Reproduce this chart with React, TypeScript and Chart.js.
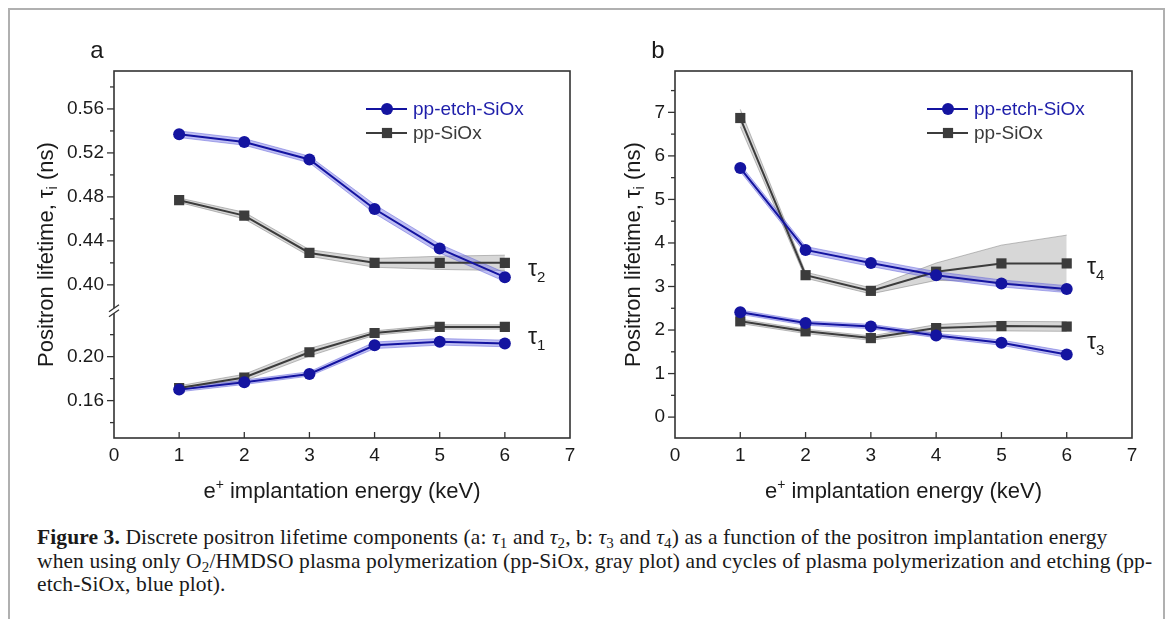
import React, { useEffect, useRef } from 'react';
import { Chart, registerables } from 'chart.js';

Chart.register(...registerables);

// ---------------- data ----------------
const energies = [1, 2, 3, 4, 5, 6];

// panel a (tau2 upper segment, tau1 lower segment)
const tau2Etch = [0.537, 0.530, 0.514, 0.469, 0.433, 0.407];
const tau2EtchErr = [0.003, 0.003, 0.003, 0.004, 0.004, 0.004];
const tau2Plain = [0.477, 0.463, 0.429, 0.420, 0.420, 0.420];
const tau2PlainErr = [0.002, 0.003, 0.003, 0.004, 0.006, 0.007];
const tau1Etch = [0.170, 0.1767, 0.1843, 0.2103, 0.2135, 0.212];
const tau1EtchErr = [0.002, 0.002, 0.002, 0.003, 0.003, 0.003];
const tau1Plain = [0.1715, 0.181, 0.204, 0.2215, 0.227, 0.227];
const tau1PlainErr = [0.002, 0.003, 0.0035, 0.002, 0.002, 0.002];

// panel b (tau4, tau3)
const tau4Etch = [5.72, 3.84, 3.54, 3.26, 3.07, 2.94];
const tau4EtchErr = [0.08, 0.08, 0.08, 0.08, 0.08, 0.08];
const tau4Plain = [6.87, 3.26, 2.90, 3.34, 3.53, 3.53];
const tau4PlainErr = [0.2, 0.07, 0.07, 0.2, 0.42, 0.65];
const tau3Etch = [2.41, 2.16, 2.08, 1.875, 1.71, 1.44];
const tau3EtchErr = [0.05, 0.05, 0.05, 0.05, 0.06, 0.07];
const tau3Plain = [2.2, 1.97, 1.815, 2.045, 2.09, 2.08];
const tau3PlainErr = [0.05, 0.05, 0.05, 0.08, 0.11, 0.11];

// tick labels
const upperTickLabels = [0.40, 0.44, 0.48, 0.52, 0.56];
const lowerTickLabels = [0.16, 0.20];
const bTickLabels = [0, 1, 2, 3, 4, 5, 6, 7];
const seriesNames = ['pp-etch-SiOx', 'pp-SiOx'];

// axis ranges
const xRange = [0, 7];
const aUpperRange = [0.3765, 0.5945];
const aLowerRange = [0.126, 0.2418];
const bRange = [-0.48, 7.95];

// ---------------- styling ----------------
const FONT = '"Liberation Sans", Arial, Helvetica, sans-serif';
const TXT = '#1a1a1a';
const AXIS = '#333333';
const BLUE = '#1414a0';
const BLUE_TXT = '#1e1eaa';
const GRAY = '#3c3c3c';
const BLUE_BAND = 'rgba(110,110,228,0.45)';
const BLUE_EDGE = 'rgba(95,95,215,0.6)';
const GRAY_BAND = 'rgba(175,175,175,0.5)';
const GRAY_EDGE = 'rgba(120,120,120,0.6)';

type Kind = 'etch' | 'plain';

function pts(vals: number[], errs: number[] | null, sign: number) {
  return energies.map((e, i) => ({ x: e, y: vals[i] + (errs ? sign * errs[i] : 0) }));
}

function series(vals: number[], errs: number[], axis: string, kind: Kind) {
  const color = kind === 'etch' ? BLUE : GRAY;
  const band = kind === 'etch' ? BLUE_BAND : GRAY_BAND;
  const edge = kind === 'etch' ? BLUE_EDGE : GRAY_EDGE;
  const order = kind === 'etch' ? 1 : 2;
  return [
    {
      data: pts(vals, errs, -1), yAxisID: axis, borderColor: edge, borderWidth: 0.8,
      pointRadius: 0, fill: false, order: order + 10, tension: 0,
    },
    {
      data: pts(vals, errs, 1), yAxisID: axis, borderColor: edge, borderWidth: 0.8,
      pointRadius: 0, backgroundColor: band, fill: '-1', order: order + 10, tension: 0,
    },
    {
      data: pts(vals, null, 0), yAxisID: axis, borderColor: color, backgroundColor: color,
      borderWidth: 2, pointStyle: kind === 'etch' ? 'circle' : 'rect',
      pointRadius: kind === 'etch' ? 6 : 7.2, pointBorderWidth: 0,
      pointBackgroundColor: color, fill: false, order, tension: 0,
    },
  ];
}

function labelCb(list: number[], digits: number) {
  return (v: any) => {
    const n = Number(v);
    return list.some((l) => Math.abs(l - n) < 1e-6) ? n.toFixed(digits) : '';
  };
}

function yScale(range: number[], step: number, labels: number[], digits: number, width: number, extra: any) {
  return {
    type: 'linear', position: 'left', min: range[0], max: range[1],
    grid: { display: false, drawTicks: false }, border: { display: false },
    ticks: {
      stepSize: step, autoSkip: false, includeBounds: false, padding: 10, color: TXT,
      font: { family: FONT, size: 19 }, callback: labelCb(labels, digits),
    },
    afterFit: (s: any) => { s.width = width; },
    ...extra,
  };
}

const xScale = {
  type: 'linear', position: 'bottom', min: xRange[0], max: xRange[1],
  grid: { display: false, drawTicks: false }, border: { display: false },
  ticks: {
    stepSize: 1, autoSkip: false, padding: 6, color: TXT, maxRotation: 0,
    font: { family: FONT, size: 19 },
  },
  afterFit: (s: any) => { s.height = 40; },
};

type Run = { t: string; size: number; dy?: number };
function drawRuns(ctx: CanvasRenderingContext2D, runs: Run[], x: number, y: number, center: boolean) {
  let total = 0;
  const widths = runs.map((r) => {
    ctx.font = `${r.size}px ${FONT}`;
    const w = ctx.measureText(r.t).width;
    total += w;
    return w;
  });
  let cx = center ? x - total / 2 : x;
  runs.forEach((r, i) => {
    ctx.font = `${r.size}px ${FONT}`;
    ctx.fillText(r.t, cx, y + (r.dy || 0));
    cx += widths[i];
  });
}

type Decor = {
  letter: string;
  yIds: string[];
  breakAxis?: string;
  yTitleGap: number;
  taus: { sub: string; dx: number; dy: number }[];
};

function decor(cfg: Decor) {
  return {
    id: 'decor' + cfg.letter,
    afterDraw(chart: any) {
      const ctx: CanvasRenderingContext2D = chart.ctx;
      const { left, right, top, bottom } = chart.chartArea;
      ctx.save();
      const line = (x1: number, y1: number, x2: number, y2: number) => {
        ctx.beginPath(); ctx.moveTo(x1, y1); ctx.lineTo(x2, y2); ctx.stroke();
      };
      // frame
      ctx.strokeStyle = AXIS;
      ctx.lineWidth = 1.6;
      ctx.strokeRect(left, top, right - left, bottom - top);
      // x ticks (inward)
      ctx.lineWidth = 1.3;
      const xs = chart.scales.x;
      for (const t of xs.ticks) {
        if (t.value <= xs.min || t.value >= xs.max) continue;
        const px = xs.getPixelForValue(t.value);
        line(px, bottom, px, bottom - 6);
      }
      // y ticks (outward)
      const breakY = cfg.breakAxis ? chart.scales[cfg.breakAxis].bottom : null;
      for (const id of cfg.yIds) {
        const s = chart.scales[id];
        for (const t of s.ticks) {
          const py = s.getPixelForValue(t.value);
          if (breakY !== null && Math.abs(py - breakY) < 8) continue;
          const major = t.label !== '' && t.label !== undefined;
          line(left - (major ? 7 : 4), py, left, py);
        }
      }
      // axis break
      if (breakY !== null) {
        ctx.fillStyle = '#ffffff';
        ctx.fillRect(left - 3, breakY - 2.5, 6, 5);
        ctx.lineWidth = 1.3;
        ctx.strokeStyle = AXIS;
        line(left - 5, breakY - 2.5 + 3.5, left + 5, breakY - 2.5 - 3.5);
        line(left - 5, breakY + 2.5 + 3.5, left + 5, breakY + 2.5 - 3.5);
      }
      ctx.fillStyle = TXT;
      ctx.textBaseline = 'alphabetic';
      ctx.textAlign = 'left';
      // y title
      ctx.save();
      ctx.translate(left - cfg.yTitleGap, (top + bottom) / 2);
      ctx.rotate(-Math.PI / 2);
      drawRuns(ctx, [
        { t: 'Positron lifetime, \u03c4', size: 22 },
        { t: 'i', size: 15, dy: 4 },
        { t: ' (ns)', size: 22 },
      ], 0, 0, true);
      ctx.restore();
      // x title
      drawRuns(ctx, [
        { t: 'e', size: 22 },
        { t: '+', size: 14, dy: -9 },
        { t: ' implantation energy (keV)', size: 22 },
      ], (left + right) / 2, bottom + 60, true);
      // panel letter
      ctx.font = `24px ${FONT}`;
      ctx.textAlign = 'center';
      ctx.fillText(cfg.letter, left - 17, top - 13);
      ctx.textAlign = 'left';
      // legend
      const rows = [
        { name: seriesNames[0], color: BLUE, txt: BLUE_TXT, circle: true, y: top + 38 },
        { name: seriesNames[1], color: GRAY, txt: '#3a3a3a', circle: false, y: top + 62 },
      ];
      for (const r of rows) {
        ctx.strokeStyle = r.color;
        ctx.lineWidth = 2;
        line(left + 252, r.y, left + 293, r.y);
        ctx.fillStyle = r.color;
        ctx.beginPath();
        if (r.circle) ctx.arc(left + 273, r.y, 6, 0, Math.PI * 2);
        else ctx.rect(left + 273 - 5.1, r.y - 5.1, 10.2, 10.2);
        ctx.fill();
        ctx.fillStyle = r.txt;
        ctx.font = `19px ${FONT}`;
        ctx.fillText(r.name, left + 299, r.y + 5.5);
      }
      // tau labels
      ctx.fillStyle = TXT;
      for (const tl of cfg.taus) {
        drawRuns(ctx, [
          { t: '\u03c4', size: 23 },
          { t: tl.sub, size: 15, dy: 6.7 },
        ], right - tl.dx, top + tl.dy, false);
      }
      ctx.restore();
    },
  };
}

function baseOptions(padding: any, scales: any) {
  return {
    responsive: false,
    animation: false,
    events: [],
    layout: { padding },
    plugins: { legend: { display: false }, tooltip: { enabled: false }, title: { display: false } },
    scales,
  };
}

function configA(): any {
  return {
    type: 'line',
    data: {
      datasets: [
        ...series(tau2Etch, tau2EtchErr, 'yTop', 'etch'),
        ...series(tau2Plain, tau2PlainErr, 'yTop', 'plain'),
        ...series(tau1Etch, tau1EtchErr, 'yBot', 'etch'),
        ...series(tau1Plain, tau1PlainErr, 'yBot', 'plain'),
      ],
    },
    options: baseOptions({ left: 0, right: 15, top: 61, bottom: 32 }, {
      x: xScale,
      yTop: yScale(aUpperRange, 0.02, upperTickLabels, 2, 104, {
        stack: 'ya', stackWeight: aUpperRange[1] - aUpperRange[0], weight: 2,
      }),
      yBot: yScale(aLowerRange, 0.02, lowerTickLabels, 2, 104, {
        stack: 'ya', stackWeight: aLowerRange[1] - aLowerRange[0], weight: 1,
      }),
    }),
    plugins: [decor({
      letter: 'a', yIds: ['yTop', 'yBot'], breakAxis: 'yTop', yTitleGap: 61,
      taus: [{ sub: '2', dx: 42, dy: 204.7 }, { sub: '1', dx: 42, dy: 272.7 }],
    })],
  };
}

function configB(): any {
  return {
    type: 'line',
    data: {
      datasets: [
        ...series(tau4Etch, tau4EtchErr, 'y', 'etch'),
        ...series(tau4Plain, tau4PlainErr, 'y', 'plain'),
        ...series(tau3Etch, tau3EtchErr, 'y', 'etch'),
        ...series(tau3Plain, tau3PlainErr, 'y', 'plain'),
      ],
    },
    options: baseOptions({ left: 0, right: 18, top: 61, bottom: 32 }, {
      x: xScale,
      y: yScale(bRange, 0.5, bTickLabels, 0, 85, {}),
    }),
    plugins: [decor({
      letter: 'b', yIds: ['y'], yTitleGap: 35,
      taus: [{ sub: '4', dx: 45, dy: 202.7 }, { sub: '3', dx: 45, dy: 277.7 }],
    })],
  };
}

function Panel(props: { make: () => any; left: number; top: number; width: number; height: number }) {
  const ref = useRef<HTMLCanvasElement>(null);
  useEffect(() => {
    const chart = new Chart(ref.current as HTMLCanvasElement, props.make());
    return () => chart.destroy();
  }, []);
  return (
    <canvas
      ref={ref}
      width={props.width}
      height={props.height}
      style={{ position: 'absolute', left: props.left, top: props.top, width: props.width, height: props.height }}
    />
  );
}

const subStyle: React.CSSProperties = { fontSize: '0.7em', verticalAlign: '-0.25em', lineHeight: 0 };

export default function App() {
  return (
    <div style={{ position: 'absolute', left: 0, top: 0, width: 1166, height: 619, overflow: 'hidden', background: '#fff' }}>
      <div style={{
        position: 'absolute', left: 8, top: 8, width: 1157, height: 611, boxSizing: 'border-box',
        borderTop: '2px solid #b0b0b0', borderLeft: '2px solid #b0b0b0', borderRight: '2px solid #b0b0b0',
      }} />
      <Panel make={configA} left={10} top={10} width={575} height={500} />
      <Panel make={configB} left={590} top={10} width={560} height={500} />
      <div style={{
        position: 'absolute', left: 37, top: 526, whiteSpace: 'nowrap', color: '#1a1a1a',
        fontFamily: '"Liberation Serif", "Times New Roman", serif', fontSize: 21.5, lineHeight: '23.7px',
        letterSpacing: '0.1px',
      }}>
        <b>Figure 3.</b> Discrete positron lifetime components (a: <i>τ</i><sub style={subStyle}>1</sub> and <i>τ</i><sub style={subStyle}>2</sub>, b: <i>τ</i><sub style={subStyle}>3</sub> and <i>τ</i><sub style={subStyle}>4</sub>) as a function of the positron implantation energy<br />
        when using only O<sub style={subStyle}>2</sub>/HMDSO plasma polymerization (pp-SiOx, gray plot) and cycles of plasma polymerization and etching (pp-<br />
        etch-SiOx, blue plot).
      </div>
    </div>
  );
}
